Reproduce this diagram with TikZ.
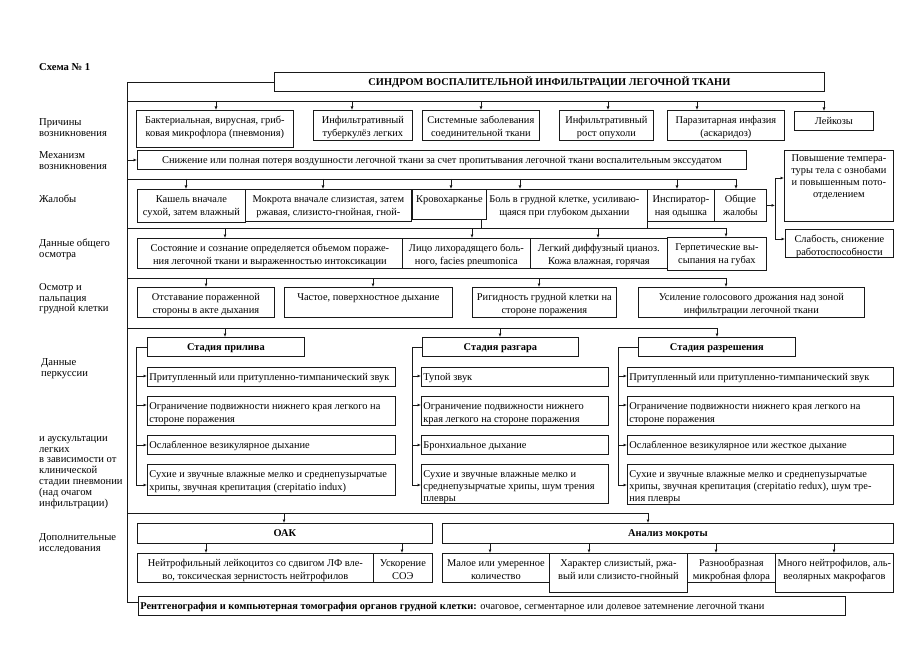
\documentclass[tikz,border=0pt]{standalone}
\usepackage{fontspec}
\setmainfont{Liberation Serif}
\usetikzlibrary{arrows.meta}
\newcommand\fsz{\fontsize{10.4}{13}\selectfont}
\newcommand\mybox[7][c]{%
 \node[bxs] (#2) at (#3pt,-#4pt) {\parbox[c][\dimexpr#6pt-#4pt-4pt\relax][t]{\dimexpr#5pt-#3pt-4pt\relax}{\vspace*{2pt}\makebox[\linewidth][#1]{\begin{tabular}[t]{@{}#1@{}}#7\end{tabular}}}};}
\newcommand\lbl[4]{\node[lab] (#1) at (#2pt,-#3pt) {\begin{tabular}[t]{@{}l@{}}#4\end{tabular}};}
\tikzset{
 bxs/.style={draw=black!90, line width=0.8pt, fill=white, anchor=north west, inner xsep=2pt, inner ysep=2pt, font=\fsz},
 lab/.style={anchor=north west, inner sep=0pt, font=\fontsize{10.6}{10.8}\selectfont},
 ln/.style={draw=black!90, line width=0.75pt},
 arr/.style={ln, -{Latex[length=3.5pt,width=3pt]}},
}
\begin{document}
\begin{tikzpicture}
\useasboundingbox (0pt,0pt) rectangle (919pt,-650pt);
% labels
\lbl{sch}{39}{62.5}{\textbf{Схема № 1}}
\lbl{l1}{39}{117.5}{Причины\\возникновения}
\lbl{l2}{39}{150.5}{Механизм\\возникновения}
\lbl{l3}{39}{194.5}{Жалобы}
\lbl{l4}{39}{238.5}{Данные общего\\осмотра}
\lbl{l5}{39}{282.5}{Осмотр и\\пальпация\\грудной клетки}
\lbl{l6}{41}{357.5}{Данные\\перкуссии}
\lbl{l7}{39}{433.5}{и аускультации\\легких\\в зависимости от\\клинической\\стадии пневмонии\\(над очагом\\инфильтрации)}
\lbl{l8}{39}{532.5}{Дополнительные\\исследования}
% title
\mybox{T}{274}{72}{824}{91}{\textbf{СИНДРОМ ВОСПАЛИТЕЛЬНОЙ ИНФИЛЬТРАЦИИ ЛЕГОЧНОЙ ТКАНИ}}
% causes
\mybox{c1}{136}{110}{293}{147}{Бактериальная, вирусная, гриб-\\ковая микрофлора (пневмония)}
\mybox{c2}{313}{110}{412}{140}{Инфильтративный\\туберкулёз легких}
\mybox{c3}{422}{110}{539}{140}{Системные заболевания\\соединительной ткани}
\mybox{c4}{559}{110}{653}{140}{Инфильтративный\\рост опухоли}
\mybox{c5}{667}{110}{784}{140}{Паразитарная инфазия\\(аскаридоз)}
\mybox{c6}{794}{111}{873}{130}{Лейкозы}
% mechanism
\mybox{m}{137}{150}{746}{169}{Снижение или полная потеря воздушности легочной ткани за счет пропитывания легочной ткани воспалительным экссудатом}
% complaints
\mybox{j1}{137}{189}{245}{222}{Кашель вначале\\сухой, затем влажный}
\mybox{j2}{245}{189}{411}{221}{Мокрота вначале слизистая, затем\\ржавая, слизисто-гнойная, гной-}
\mybox{j4}{481}{189}{647}{228}{Боль в грудной клетке, усиливаю-\\щаяся при глубоком дыхании}
\mybox{j3}{412}{189}{486}{219}{Кровохарканье}
\mybox{j5}{647}{189}{714}{221}{Инспиратор-\\ная одышка}
\mybox{j6}{714}{189}{766}{221}{Общие\\жалобы}
\node[bxs] (p1) at (784pt,-150pt) {\parbox[c][67pt][t]{105pt}{\vspace*{1pt}\fontsize{10.4}{11.8}\selectfont\makebox[\linewidth][c]{\begin{tabular}[t]{@{}c@{}}Повышение темпера-\\туры тела с ознобами\\и повышенным пото-\\отделением\end{tabular}}}};
\mybox{p2}{785}{229}{893}{257}{Слабость, снижение\\работоспособности}
% general exam
\mybox{g1}{137}{238}{402}{268}{Состояние и сознание определяется объемом пораже-\\ния легочной ткани и выраженностью интоксикации}
\mybox{g2}{402}{238}{530}{268}{Лицо лихорадящего боль-\\ного, facies pneumonica}
\mybox{g3}{530}{238}{667}{268}{Легкий диффузный цианоз.\\Кожа влажная, горячая}
\mybox{g4}{667}{237}{766}{270}{Герпетические вы-\\сыпания на губах}
% inspection
\mybox{o1}{137}{287}{274}{317}{Отставание пораженной\\стороны в акте дыхания}
\mybox{o2}{284}{287}{452}{317}{Частое, поверхностное дыхание}
\mybox{o3}{472}{287}{616}{317}{Ригидность грудной клетки на\\стороне поражения}
\mybox{o4}{638}{287}{864}{317}{Усиление голосового дрожания над зоной\\инфильтрации легочной ткани}
% stages
\mybox{s1h}{147}{337}{304}{356}{\textbf{Стадия прилива}}
\mybox{s2h}{422}{337}{578}{356}{\textbf{Стадия разгара}}
\mybox{s3h}{638}{337}{795}{356}{\textbf{Стадия разрешения}}
\mybox[l]{a1}{147}{367}{395}{386}{Притупленный или притупленно-тимпанический звук}
\mybox[l]{a2}{147}{396}{395}{425}{Ограничение подвижности нижнего края легкого на\\стороне поражения}
\mybox[l]{a3}{147}{435}{395}{454}{Ослабленное везикулярное дыхание}
\mybox[l]{a4}{147}{464}{395}{495}{Сухие и звучные влажные мелко и среднепузырчатые\\хрипы, звучная крепитация (crepitatio indux)}
\mybox[l]{b1}{421}{367}{608}{386}{Тупой звук}
\mybox[l]{b2}{421}{396}{608}{425}{Ограничение подвижности нижнего\\края легкого на стороне поражения}
\mybox[l]{b3}{421}{435}{608}{454}{Бронхиальное дыхание}
\mybox[l]{b4}{421}{464}{608}{503}{\fontsize{10.4}{12}\selectfont\begin{tabular}[t]{@{}l@{}}Сухие и звучные влажные мелко и\\среднепузырчатые хрипы, шум трения\\плевры\end{tabular}}
\mybox[l]{d1}{627}{367}{893}{386}{Притупленный или притупленно-тимпанический звук}
\mybox[l]{d2}{627}{396}{893}{425}{Ограничение подвижности нижнего края легкого на\\стороне поражения}
\mybox[l]{d3}{627}{435}{893}{454}{Ослабленное везикулярное или жесткое дыхание}
\mybox[l]{d4}{627}{464}{893}{504}{\fontsize{10.4}{12}\selectfont\begin{tabular}[t]{@{}l@{}}Сухие и звучные влажные мелко и среднепузырчатые\\хрипы, звучная крепитация (crepitatio redux), шум тре-\\ния плевры\end{tabular}}
% additional
\mybox{e1}{137}{523}{432}{543}{\textbf{ОАК}}
\mybox{e2}{442}{523}{893}{543}{\textbf{Анализ мокроты}}
\mybox{f1}{137}{553}{373}{582}{Нейтрофильный лейкоцитоз со сдвигом ЛФ вле-\\во, токсическая зернистость нейтрофилов}
\mybox{f2}{373}{553}{432}{582}{Ускорение\\СОЭ}
\mybox{f3}{442}{553}{549}{582}{Малое или умеренное\\количество}
\mybox{f4}{549}{553}{687}{592}{Характер слизистый, ржа-\\вый или слизисто-гнойный}
\mybox{f5}{687}{553}{775}{582}{Разнообразная\\микробная флора}
\mybox{f6}{775}{553}{893}{592}{Много нейтрофилов, аль-\\веолярных макрофагов}
\mybox[l]{r}{138}{596}{845}{615}{\textbf{Рентгенография и компьютерная томография органов грудной клетки:} очаговое, сегментарное или долевое затемнение легочной ткани}
% spine
\coordinate (spb) at (127pt,-602pt);
\draw[ln] (T.west) -| (spb) -- (spb -| r.west);
% separators
\draw[ln] (127pt,-101pt) -- (824pt,-101pt);
\foreach \x/\n in {216/c1,352/c2,481/c3,608/c4,697/c5,824/c6}{
 \coordinate (t) at (\x pt,-101pt); \draw[arr] (t) -- (t |- \n.north);}
\coordinate (mq) at (127pt,-160pt);
\draw[arr] (mq) -- (mq -| m.west);
\draw[ln] (127pt,-179pt) -- (736pt,-179pt);
\foreach \x/\n in {186/j1,323/j2,451/j3,520/j4,677/j5,736/j6}{
 \coordinate (t) at (\x pt,-179pt); \draw[arr] (t) -- (t |- \n.north);}
\coordinate (bz1) at (775pt,-178pt);
\coordinate (bz2) at (775pt,-239pt);
\draw[ln] (bz1) -- (bz2);
\draw[arr] (j6.east) -- (j6.east -| bz1);
\draw[arr] (bz1) -- (bz1 -| p1.west);
\draw[arr] (bz2) -- (bz2 -| p2.west);
\draw[ln] (127pt,-228pt) -- (726pt,-228pt);
\foreach \x/\n in {225/g1,472/g2,598/g3,726/g4}{
 \coordinate (t) at (\x pt,-228pt); \draw[arr] (t) -- (t |- \n.north);}
\draw[ln] (127pt,-278pt) -- (727pt,-278pt);
\foreach \x/\n in {206/o1,373/o2,539/o3,726/o4}{
 \coordinate (t) at (\x pt,-278pt); \draw[arr] (t) -- (t |- \n.north);}
\draw[ln] (127pt,-328pt) -- (717pt,-328pt);
\foreach \x/\n in {225/s1h,500/s2h,717/s3h}{
 \coordinate (t) at (\x pt,-328pt); \draw[arr] (t) -- (t |- \n.north);}
% brackets
\foreach \bxx/\h/\p in {136/s1h/a,412/s2h/b,618/s3h/d}{
 \coordinate (kb) at (\bxx pt,-485pt);
 \draw[ln] (\h.west) -| (kb);
 \foreach \yy/\i in {376/1,405/2,445/3,485/4}{
  \coordinate (t) at (\bxx pt,-\yy pt); \draw[arr] (t) -- (t -| \p\i.west);}
}
\draw[ln] (127pt,-513pt) -- (648pt,-513pt);
\foreach \x/\n in {284/e1,648/e2}{
 \coordinate (t) at (\x pt,-513pt); \draw[arr] (t) -- (t |- \n.north);}
\foreach \x/\n in {206/f1,402/f2}{
 \coordinate (t) at (\x pt,-543pt); \draw[arr] (t) -- (t |- \n.north);}
\foreach \x/\n in {490/f3,589/f4,716/f5,834/f6}{
 \coordinate (t) at (\x pt,-543pt); \draw[arr] (t) -- (t |- \n.north);}
\end{tikzpicture}
\end{document}
